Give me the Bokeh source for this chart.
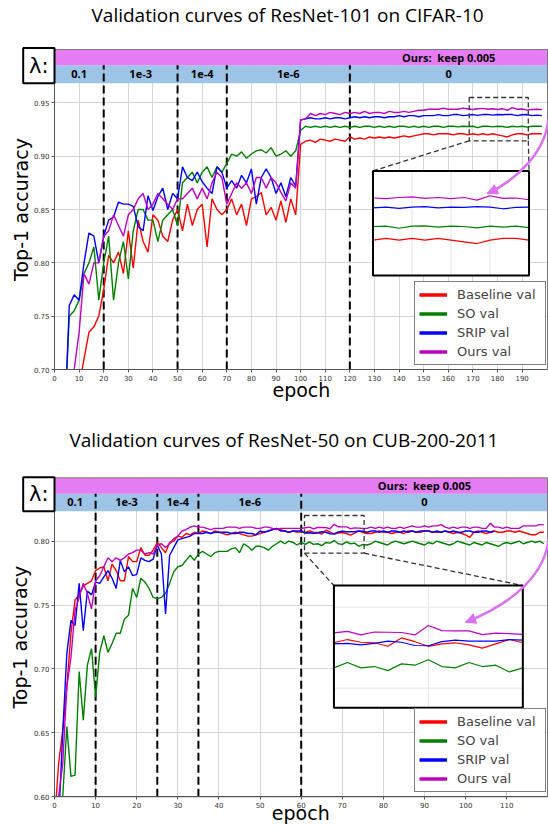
import math
from bokeh.plotting import figure
from bokeh.models import (Range1d, Legend, LegendItem, FixedTicker,
                          PrintfTickFormatter, Arrow, NormalHead)
from bokeh.layouts import column
from bokeh.embed import file_html
from bokeh.resources import INLINE
from bokeh.core.properties import value

# ----------------------------------------------------------------- data ----
SERIES_NAMES = ["Baseline val", "SO val", "SRIP val", "Ours val"]

# --- ResNet-101 on CIFAR-10 (values every 2 epochs) ---
top_epochs = list(range(0, 200, 2))
top_baseline = [
    0.55, 0.58, 0.62, 0.65, 0.67, 0.685, 0.71, 0.735, 0.74, 0.75,
    0.775, 0.807, 0.80, 0.81, 0.79, 0.83, 0.795, 0.84, 0.82, 0.81,
    0.845, 0.84, 0.825, 0.82, 0.84, 0.85, 0.83, 0.855, 0.835, 0.85,
    0.855, 0.815, 0.86, 0.85, 0.845, 0.85, 0.86, 0.845, 0.855, 0.835,
    0.86, 0.862, 0.866, 0.845, 0.852, 0.84, 0.858, 0.838, 0.86, 0.845,
    0.911, 0.914, 0.915, 0.913, 0.916, 0.915, 0.914, 0.916, 0.915, 0.914,
    0.918, 0.916, 0.917, 0.916, 0.918, 0.917, 0.918, 0.917, 0.918, 0.917,
    0.918, 0.919, 0.918, 0.919, 0.920, 0.921, 0.921, 0.920, 0.921, 0.921,
    0.921, 0.920, 0.921, 0.921, 0.920, 0.921, 0.920, 0.921, 0.920, 0.921,
    0.920, 0.919, 0.918, 0.920, 0.921, 0.921, 0.920, 0.921, 0.921, 0.921,
]
top_so = [
    0.50, 0.56, 0.65, 0.75, 0.755, 0.765, 0.79, 0.80, 0.815, 0.765,
    0.80, 0.825, 0.765, 0.80, 0.82, 0.785, 0.83, 0.85, 0.85, 0.84,
    0.84, 0.82, 0.84, 0.845, 0.85, 0.835, 0.875, 0.88, 0.885, 0.875,
    0.885, 0.89, 0.88, 0.89, 0.885, 0.893, 0.902, 0.90, 0.904, 0.898,
    0.902, 0.905, 0.906, 0.903, 0.908, 0.90, 0.902, 0.905, 0.90, 0.905,
    0.924, 0.928, 0.927, 0.928, 0.927, 0.928, 0.927, 0.928, 0.927, 0.928,
    0.927, 0.928, 0.927, 0.928, 0.928, 0.927, 0.928, 0.927, 0.928, 0.927,
    0.928, 0.928, 0.927, 0.928, 0.927, 0.928, 0.927, 0.928, 0.928, 0.927,
    0.928, 0.928, 0.9275, 0.928, 0.9278, 0.928, 0.9268, 0.928, 0.9282, 0.9275,
    0.928, 0.9278, 0.927, 0.928, 0.9275, 0.928, 0.9272, 0.928, 0.928, 0.928,
]
top_srip = [
    0.50, 0.58, 0.64, 0.76, 0.77, 0.765, 0.80, 0.828, 0.825, 0.80,
    0.825, 0.84, 0.843, 0.857, 0.855, 0.855, 0.853, 0.834, 0.83, 0.863,
    0.849, 0.862, 0.87, 0.85, 0.865, 0.86, 0.89, 0.88, 0.877, 0.885,
    0.876, 0.87, 0.865, 0.89, 0.885, 0.87, 0.877, 0.87, 0.882, 0.875,
    0.888, 0.855, 0.88, 0.888, 0.88, 0.865, 0.875, 0.862, 0.88, 0.872,
    0.934, 0.935, 0.936, 0.935, 0.935, 0.936, 0.935, 0.936, 0.936, 0.935,
    0.936, 0.937, 0.936, 0.937, 0.936, 0.937, 0.937, 0.936, 0.937, 0.937,
    0.938, 0.937, 0.938, 0.938, 0.937, 0.938, 0.938, 0.938, 0.939, 0.938,
    0.938, 0.939, 0.939, 0.938, 0.9385, 0.939, 0.9382, 0.939, 0.9392, 0.9385,
    0.939, 0.9388, 0.9392, 0.939, 0.938, 0.9388, 0.939, 0.938, 0.9385, 0.938,
]
top_ours = [
    0.50, 0.55, 0.60, 0.65, 0.70, 0.735, 0.79, 0.78, 0.80, 0.80,
    0.825, 0.83, 0.845, 0.835, 0.825, 0.845, 0.85, 0.86, 0.865, 0.85,
    0.855, 0.865, 0.86, 0.855, 0.85, 0.86, 0.86, 0.865, 0.87, 0.86,
    0.87, 0.86, 0.875, 0.885, 0.88, 0.855, 0.865, 0.875, 0.87, 0.875,
    0.865, 0.88, 0.88, 0.87, 0.88, 0.875, 0.866, 0.858, 0.875, 0.87,
    0.934, 0.935, 0.940, 0.938, 0.940, 0.939, 0.941, 0.940, 0.939, 0.941,
    0.940, 0.941, 0.940, 0.942, 0.940, 0.941, 0.941, 0.940, 0.942, 0.941,
    0.941, 0.942, 0.941, 0.942, 0.943, 0.943, 0.944, 0.944, 0.944, 0.945,
    0.944, 0.944, 0.944, 0.945, 0.9442, 0.9438, 0.9445, 0.9448, 0.944, 0.9445,
    0.9438, 0.9445, 0.943, 0.9455, 0.944, 0.9442, 0.9432, 0.9438, 0.944, 0.9438,
]

# --- ResNet-50 on CUB-200-2011 (values every epoch) ---
bot_epochs = list(range(0, 120))
bot_srip_epochs = list(range(0, 108))
bot_baseline = [
    0.58, 0.626, 0.652, 0.686, 0.728, 0.754, 0.758, 0.765, 0.767, 0.769,
    0.777, 0.779, 0.78, 0.769, 0.782, 0.777, 0.769, 0.769, 0.788, 0.784,
    0.784, 0.795, 0.789, 0.789, 0.793, 0.799, 0.795, 0.791, 0.799, 0.80,
    0.804, 0.803, 0.806, 0.805, 0.807, 0.806, 0.808, 0.807, 0.806, 0.808,
    0.807, 0.806, 0.805, 0.806, 0.807, 0.806, 0.805, 0.804, 0.804, 0.805,
    0.806, 0.807, 0.808, 0.809, 0.81, 0.809, 0.808, 0.807, 0.808, 0.807,
    0.8075, 0.8068, 0.808, 0.807, 0.8068, 0.8055, 0.8086, 0.8072, 0.8055, 0.8064,
    0.8068, 0.806, 0.8048, 0.8064, 0.808, 0.8068, 0.806, 0.806, 0.807, 0.808,
    0.807, 0.807, 0.806, 0.807, 0.807, 0.806, 0.808, 0.808, 0.807, 0.807,
    0.808, 0.808, 0.807, 0.807, 0.807, 0.808, 0.807, 0.806, 0.807, 0.806,
    0.805, 0.803, 0.807, 0.808, 0.807, 0.806, 0.807, 0.808, 0.807, 0.807,
    0.808, 0.808, 0.807, 0.808, 0.807, 0.806, 0.805, 0.805, 0.807, 0.807,
]
bot_so = [
    0.55, 0.58, 0.60, 0.655, 0.616, 0.617, 0.698, 0.66, 0.703, 0.716,
    0.678, 0.713, 0.726, 0.713, 0.72, 0.728, 0.728, 0.739, 0.742, 0.763,
    0.756, 0.771, 0.768, 0.763, 0.756, 0.755, 0.756, 0.759, 0.767, 0.776,
    0.78, 0.781, 0.785, 0.789, 0.785, 0.79, 0.792, 0.79, 0.788, 0.791,
    0.792, 0.792, 0.792, 0.794, 0.795, 0.791, 0.798, 0.796, 0.793, 0.796,
    0.796, 0.795, 0.793, 0.796, 0.798, 0.80, 0.798, 0.80, 0.799, 0.797,
    0.799, 0.7975, 0.7995, 0.7975, 0.798, 0.7965, 0.799, 0.7985, 0.8005, 0.798,
    0.7975, 0.7995, 0.798, 0.7985, 0.796, 0.7975, 0.797, 0.798, 0.80, 0.799,
    0.798, 0.797, 0.799, 0.80, 0.799, 0.798, 0.799, 0.80, 0.799, 0.798,
    0.797, 0.799, 0.798, 0.80, 0.799, 0.798, 0.797, 0.798, 0.80, 0.799,
    0.798, 0.797, 0.799, 0.798, 0.797, 0.799, 0.798, 0.797, 0.796, 0.798,
    0.799, 0.798, 0.799, 0.80, 0.798, 0.799, 0.80, 0.799, 0.80, 0.798,
]
bot_srip = [
    0.55, 0.58, 0.65, 0.712, 0.738, 0.734, 0.767, 0.73, 0.761, 0.758,
    0.768, 0.767, 0.772, 0.777, 0.771, 0.763, 0.785, 0.776, 0.78, 0.773,
    0.774, 0.787, 0.785, 0.784, 0.786, 0.797, 0.79, 0.743, 0.789, 0.795,
    0.801, 0.802, 0.803, 0.804, 0.806, 0.806, 0.806, 0.807, 0.806, 0.807,
    0.807, 0.807, 0.807, 0.806, 0.806, 0.807, 0.807, 0.806, 0.806, 0.805,
    0.808, 0.807, 0.808, 0.809, 0.81, 0.808, 0.808, 0.807, 0.808, 0.808,
    0.808, 0.8064, 0.8066, 0.806, 0.8066, 0.8074, 0.807, 0.8058, 0.8057, 0.8072,
    0.8078, 0.8074, 0.8074, 0.8074, 0.808, 0.8078, 0.807, 0.808, 0.808, 0.807,
    0.808, 0.807, 0.808, 0.808, 0.807, 0.808, 0.807, 0.808, 0.807, 0.808,
    0.808, 0.808, 0.807, 0.808, 0.807, 0.808, 0.807, 0.808, 0.807, 0.807,
    0.808, 0.808, 0.807, 0.807, 0.808, 0.808, 0.807, 0.808,
]
bot_ours = [
    0.58, 0.60, 0.626, 0.686, 0.709, 0.746, 0.756, 0.767, 0.759, 0.747,
    0.769, 0.773, 0.78, 0.787, 0.784, 0.787, 0.785, 0.787, 0.79, 0.791,
    0.793, 0.793, 0.79, 0.791, 0.79, 0.797, 0.798, 0.795, 0.798, 0.802,
    0.804, 0.808, 0.809, 0.811, 0.812, 0.811, 0.811, 0.81, 0.809, 0.81,
    0.81, 0.81, 0.811, 0.811, 0.811, 0.81, 0.811, 0.811, 0.811, 0.81,
    0.81, 0.811, 0.811, 0.81, 0.809, 0.81, 0.81, 0.81, 0.81, 0.81,
    0.81, 0.8105, 0.811, 0.8097, 0.8108, 0.8107, 0.8106, 0.8097, 0.8132, 0.8113,
    0.8112, 0.8112, 0.8098, 0.8104, 0.8102, 0.8099, 0.81, 0.811, 0.81, 0.811,
    0.81, 0.811, 0.81, 0.81, 0.811, 0.81, 0.811, 0.812, 0.811, 0.811,
    0.812, 0.811, 0.812, 0.812, 0.813, 0.811, 0.81, 0.811, 0.81, 0.811,
    0.811, 0.81, 0.811, 0.811, 0.81, 0.81, 0.814, 0.811, 0.811, 0.81,
    0.811, 0.81, 0.81, 0.81, 0.812, 0.812, 0.812, 0.812, 0.813, 0.813,
]

top_xticks = list(range(0, 200, 10))
top_yticks = [0.70, 0.75, 0.80, 0.85, 0.90, 0.95]
bot_xticks = list(range(0, 120, 10))
bot_yticks = [0.60, 0.65, 0.70, 0.75, 0.80]

lambda_labels = ["0.1", "1e-3", "1e-4", "1e-6", "0"]
ours_label = "Ours:\u00a0 keep 0.005"
top_lambda_changes = [20, 50, 70, 120]
bot_lambda_changes = [10, 25, 35, 60]

# ---------------------------------------------------------------- style ----
COLORS = ["#FF0000", "#008000", "#0000FF", "#BF00BF"]
PINK = "#E57CF3"
BLUE_BAND = "#9DC3E6"
ARROW_COLOR = "#DC70F2"
DV = "DejaVu Sans"
FIG_W = 548
FRAME_L, FRAME_R = 54, 547     # px of data x = 0 and x = xmax inside figure


def build(cfg):
    H = cfg["height"]
    xmax, ymin = cfg["xmax"], cfg["ymin"]
    dt, bm, yt = cfg["data_top"], cfg["band_mid"], cfg["ytop"]
    top_px, bot_px = cfg["top_px"], cfg["bottom_px"]
    kx = (FRAME_R - FRAME_L) / xmax
    ky = (bot_px - top_px) / (yt - ymin)
    x_lo = -FRAME_L / kx
    x_hi = xmax + (FIG_W - FRAME_R) / kx
    y_hi = yt + top_px / ky
    y_lo = ymin - (H - bot_px) / ky

    p = figure(width=FIG_W, height=H, x_range=Range1d(x_lo, x_hi),
               y_range=Range1d(y_lo, y_hi), output_backend="svg",
               toolbar_location=None, min_border=0, min_border_left=0,
               min_border_right=0, min_border_top=0, min_border_bottom=0)
    p.outline_line_color = None
    p.background_fill_color = "white"
    p.border_fill_color = "white"

    p.xaxis.ticker = FixedTicker(ticks=cfg["xticks"])
    p.yaxis.ticker = FixedTicker(ticks=cfg["yticks"])
    p.yaxis.formatter = PrintfTickFormatter(format="%.2f")
    p.xaxis.fixed_location = ymin
    p.yaxis.fixed_location = 0
    p.xaxis.bounds = (0, xmax)
    p.yaxis.bounds = (ymin, dt)
    for ax in (p.xaxis[0], p.yaxis[0]):
        ax.axis_line_color = "#555555"
        ax.major_tick_line_color = "#555555"
        ax.major_tick_out = 3
        ax.major_tick_in = 0
        ax.minor_tick_line_color = None
        ax.major_label_text_font = DV
        ax.major_label_text_font_size = "7px"
        ax.major_label_text_color = "#333333"
        ax.major_label_standoff = 2
    p.xgrid.ticker = FixedTicker(ticks=cfg["xticks"])
    p.ygrid.ticker = FixedTicker(ticks=cfg["yticks"])
    p.grid.grid_line_color = "#D6D6D6"
    p.grid.grid_line_width = 1

    # lambda schedule bands
    p.quad(left=[0], right=[xmax], bottom=[dt], top=[bm],
           fill_color=BLUE_BAND, line_color=None)
    p.quad(left=[0], right=[xmax], bottom=[bm], top=[yt],
           fill_color=PINK, line_color=None)
    ch = cfg["changes"]
    bounds = [0] + ch + [xmax]
    centers = [(a + b) / 2 for a, b in zip(bounds[:-1], bounds[1:])]
    p.text(x=centers, y=[(dt + bm) / 2] * len(centers), text=lambda_labels,
           text_font=value("Open Sans"), text_font_style="bold",
           text_font_size="11px", text_align="center", text_baseline="middle",
           text_color="black")
    p.text(x=[centers[-1]], y=[(bm + yt) / 2], text=[ours_label],
           text_font=value("Open Sans"), text_font_style="bold",
           text_font_size="11px", text_align="center", text_baseline="middle",
           text_color="black")
    p.segment(x0=ch, y0=[ymin] * len(ch), x1=ch, y1=[bm] * len(ch),
              line_color="black", line_width=2, line_dash="8 4")

    # curves
    for (xs, ys), c in zip(cfg["series"], COLORS):
        p.line(xs, ys, line_color=c, line_width=1.4)

    # white margins (hide grid and off-range parts of the curves)
    p.quad(left=[x_lo, x_lo, x_lo, xmax], right=[0, x_hi, x_hi, x_hi],
           bottom=[y_lo, y_lo, yt, y_lo], top=[y_hi, ymin, y_hi, y_hi],
           fill_color="white", line_color=None)
    # plot-area border
    p.quad(left=[0], right=[xmax], bottom=[ymin], top=[yt], fill_color=None,
           line_color="#777777", line_width=1)

    # zoom box, connectors and inset
    sl, sr, sb, st = cfg["src_box"]
    il, ir, ib, it = cfg["inset_box"]
    p.quad(left=[sl], right=[sr], bottom=[sb], top=[st], fill_color=None,
           line_color="#333333", line_width=1.3, line_dash="5 3")
    p.segment(x0=[sl, sr], y0=[sb, sb], x1=[il, ir], y1=[it, it],
              line_color="#333333", line_width=1.3, line_dash="5 3")
    p.quad(left=[il], right=[ir], bottom=[ib], top=[it], fill_color="white",
           line_color=None)
    xs0, xs1 = cfg["inset_xsrc"]
    ys0, ys1 = cfg["inset_ysrc"]
    sub = p.subplot(x_source=Range1d(xs0, xs1), y_source=Range1d(ys0, ys1),
                    x_target=Range1d(il, ir), y_target=Range1d(ib, it))
    gx = cfg["inset_gridx"]
    sub.segment(x0=gx, y0=[ys0] * len(gx), x1=gx, y1=[ys1] * len(gx),
                line_color="#E4E4E4", line_width=1)
    gy = cfg["inset_gridy"]
    if gy:
        sub.segment(x0=[xs0] * len(gy), y0=gy, x1=[xs1] * len(gy), y1=gy,
                    line_color="#E4E4E4", line_width=1)
    for (xs, ys), c in zip(cfg["series"], COLORS):
        sel = [(x, y) for x, y in zip(xs, ys) if xs0 <= x <= xs1]
        sub.line([a for a, _ in sel], [b for _, b in sel], line_color=c,
                 line_width=1.2)
    p.quad(left=[il], right=[ir], bottom=[ib], top=[it], fill_color=None,
           line_color="black", line_width=2)

    # curved arrow
    a = cfg["arrow"]
    p.bezier(x0=[a[0]], y0=[a[1]], cx0=[a[2]], cy0=[a[3]], cx1=[a[4]],
             cy1=[a[5]], x1=[a[6]], y1=[a[7]], line_color=ARROW_COLOR,
             line_width=2.5)
    hx = a[6] + 0.15 * (a[4] - a[6])
    hy = a[7] + 0.15 * (a[5] - a[7])
    p.add_layout(Arrow(end=NormalHead(size=10, fill_color=ARROW_COLOR,
                                      line_color=ARROW_COLOR),
                       x_start=hx, y_start=hy, x_end=a[6], y_end=a[7],
                       line_color=ARROW_COLOR, line_width=2.5))

    # lambda box
    lx0, lx1, ly0, ly1 = cfg["lambda_box"]
    p.quad(left=[lx0], right=[lx1], bottom=[ly0], top=[ly1],
           fill_color="white", line_color="black", line_width=2)
    p.text(x=[(lx0 + lx1) / 2], y=[(ly0 + ly1) / 2], text=["λ:"],
           text_font=value(DV), text_font_size="21px", text_align="center",
           text_baseline="middle", text_color="black")

    # titles and axis labels
    p.text(x=[cfg["title_pos"][0]], y=[cfg["title_pos"][1]],
           text=[cfg["title"]], text_font=value("Open Sans"),
           text_font_size="19px", text_align="center",
           text_baseline="middle", text_color="black")
    p.text(x=[cfg["ylabel_pos"][0]], y=[cfg["ylabel_pos"][1]],
           text=["Top-1 accuracy"], text_font=value(DV),
           text_font_size="19px", angle=math.pi / 2, text_align="center",
           text_baseline="middle", text_color="black")
    p.text(x=[cfg["xlabel_pos"][0]], y=[cfg["xlabel_pos"][1]],
           text=["epoch"], text_font=value(DV), text_font_size="19px",
           text_align="center", text_baseline="middle", text_color="black")

    # legend (thick sample lines)
    items = []
    for name, c in zip(SERIES_NAMES, COLORS):
        r = p.line(x=[float("nan")], y=[float("nan")], line_color=c,
                   line_width=3.5)
        items.append(LegendItem(label=name, renderers=[r]))
    leg = Legend(items=items, location=cfg["legend_loc"],
                 border_line_color="black", border_line_width=1.5,
                 background_fill_color="white", background_fill_alpha=1.0,
                 label_text_font=DV, label_text_font_size="13px",
                 glyph_width=28, glyph_height=17, label_height=17,
                 label_width=84, spacing=2, padding=4, margin=0,
                 label_standoff=10)
    p.add_layout(leg)
    return p


top_cfg = dict(
    height=408, xmax=200.3, ymin=0.70, ytop=1.0, data_top=0.9683,
    band_mid=0.9852, top_px=49, bottom_px=369,
    xticks=top_xticks, yticks=top_yticks, changes=top_lambda_changes,
    series=[(top_epochs, top_baseline), (top_epochs, top_so),
            (top_epochs, top_srip), (top_epochs, top_ours)],
    src_box=(168.5, 192.5, 0.9144, 0.955),
    inset_box=(129.4, 192.8, 0.7881, 0.8862),
    inset_xsrc=(168, 192), inset_ysrc=(0.8996, 0.9598),
    inset_gridx=[174, 180, 186], inset_gridy=[],
    arrow=(200.6, 0.9354, 200.0, 0.905, 188.0, 0.878, 175.9, 0.865),
    lambda_box=(-12.72, 0.0, 0.9683, 1.0014),
    title="Validation curves of ResNet-101 on CIFAR-10",
    title_pos=(94.7, 1.0319),
    ylabel_pos=(-13.8, 0.85), xlabel_pos=(100.3, 0.6812),
    legend_loc=(414, 43),
)

bot_cfg = dict(
    height=421, xmax=119.9, ymin=0.60, ytop=0.8496, data_top=0.8235,
    band_mid=0.8371, top_px=69.3, bottom_px=388.3,
    xticks=bot_xticks, yticks=bot_yticks, changes=bot_lambda_changes,
    series=[(bot_epochs, bot_baseline), (bot_epochs, bot_so),
            (bot_srip_epochs, bot_srip), (bot_epochs, bot_ours)],
    src_box=(60.8, 75.3, 0.7906, 0.8201),
    inset_box=(67.96, 113.9, 0.6696, 0.7653),
    inset_xsrc=(61, 75), inset_ysrc=(0.7827, 0.828),
    inset_gridx=[68], inset_gridy=[0.79, 0.82],
    arrow=(120.2, 0.8031, 119.5, 0.775, 112.0, 0.752, 100.0, 0.7366),
    lambda_box=(-7.62, 0.0, 0.8235, 0.8501),
    title="Validation curves of ResNet-50 on CUB-200-2011",
    title_pos=(55.8, 0.8788),
    ylabel_pos=(-8.27, 0.7249), xlabel_pos=(59.9, 0.5877),
    legend_loc=(414, 37),
)

p1 = build(top_cfg)
p2 = build(bot_cfg)
layout = column(p1, p2)
open("out.html", "w").write(file_html(layout, INLINE))
